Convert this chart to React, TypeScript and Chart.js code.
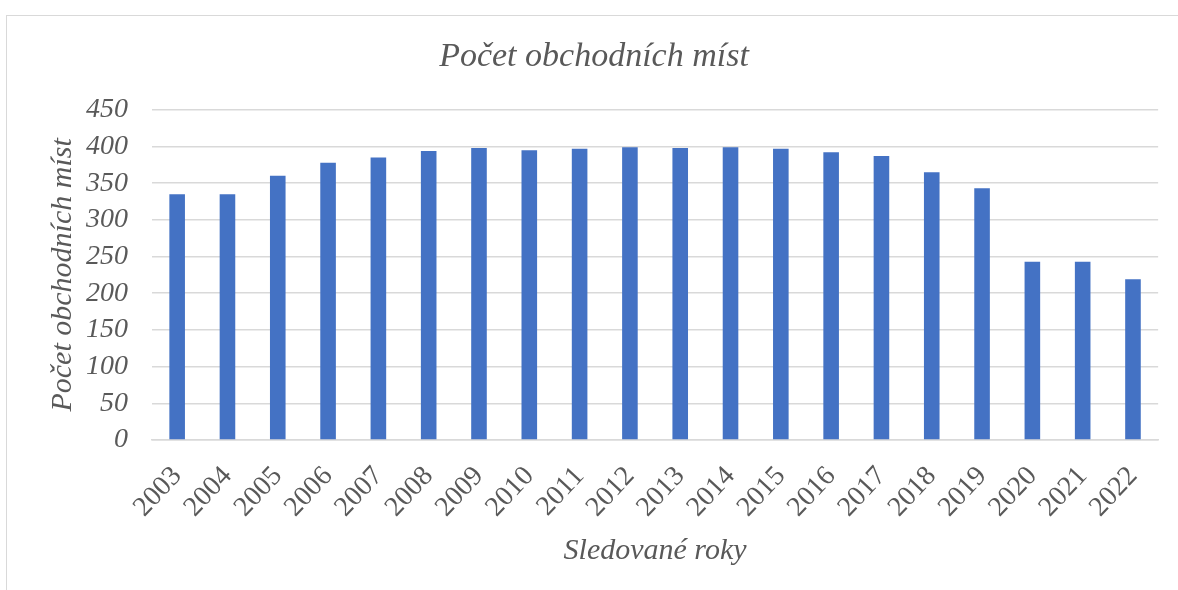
import React, { useEffect, useRef } from "react";
import { Chart, registerables } from "chart.js";

Chart.register(...registerables);

const years: string[] = [
  "2003", "2004", "2005", "2006", "2007", "2008", "2009", "2010", "2011", "2012",
  "2013", "2014", "2015", "2016", "2017", "2018", "2019", "2020", "2021", "2022",
];
const stores: number[] = [
  335, 335, 360, 378, 385, 394, 398, 395, 397, 399,
  398, 399, 397, 392, 387, 365, 343, 243, 243, 219,
];
const chartTitle = "Počet obchodních míst";
const yAxisTitle = "Počet obchodních míst";
const xAxisTitle = "Sledované roky";

const FONT = "'Liberation Serif', 'Times New Roman', serif";
const TEXT = "#595959";
const GRID = "#d9d9d9";

export default function App() {
  const ref = useRef<HTMLCanvasElement | null>(null);

  useEffect(() => {
    if (!ref.current) return;
    const chart = new Chart(ref.current, {
      type: "bar",
      data: {
        labels: years,
        datasets: [
          {
            data: stores,
            backgroundColor: "#4472C4",
            borderWidth: 0,
            barPercentage: 0.31,
            categoryPercentage: 1,
          },
        ],
      },
      options: {
        animation: false,
        responsive: false,
        maintainAspectRatio: false,
        layout: { padding: { left: 28, right: 18, top: 0, bottom: 0 } },
        plugins: {
          legend: { display: false },
          tooltip: { enabled: false },
          title: {
            display: true,
            text: chartTitle,
            color: TEXT,
            font: { family: FONT, style: "italic", size: 34, weight: "normal" },
            padding: { top: 37, bottom: 32 },
          },
        },
        scales: {
          x: {
            grid: { display: false, drawTicks: false },
            border: { display: true, color: GRID, width: 1.5 },
            ticks: {
              autoSkip: false,
              minRotation: 47,
              maxRotation: 47,
              color: TEXT,
              padding: 20,
              font: { family: FONT, size: 28 },
            },
            title: {
              display: true,
              text: xAxisTitle,
              color: TEXT,
              font: { family: FONT, style: "italic", size: 30 },
              padding: { top: 0, bottom: 21 },
            },
            afterFit: (scale: any) => {
              scale.height = 150;
            },
          },
          y: {
            min: 0,
            max: 450,
            ticks: {
              stepSize: 50,
              color: TEXT,
              padding: 24,
              font: { family: FONT, style: "italic", size: 28 },
            },
            grid: { color: GRID, lineWidth: 1.5, drawTicks: false },
            border: { display: false },
            title: {
              display: true,
              text: yAxisTitle,
              color: TEXT,
              font: { family: FONT, style: "italic", size: 30 },
              padding: { top: 17, bottom: 0 },
            },
            afterFit: (scale: any) => {
              scale.width = 124;
            },
          },
        },
      },
    });
    return () => chart.destroy();
  }, []);

  return (
    <div
      style={{
        position: "fixed",
        left: 0,
        top: 0,
        width: 1178,
        height: 590,
        background: "#ffffff",
      }}
    >
      <div
        style={{
          position: "absolute",
          left: 6,
          top: 15,
          right: 0,
          bottom: 0,
          borderTop: "1.5px solid #d9d9d9",
          borderLeft: "1.5px solid #d9d9d9",
        }}
      />
      <canvas
        ref={ref}
        width={1178}
        height={590}
        style={{ position: "absolute", left: 0, top: 0 }}
      />
    </div>
  );
}
